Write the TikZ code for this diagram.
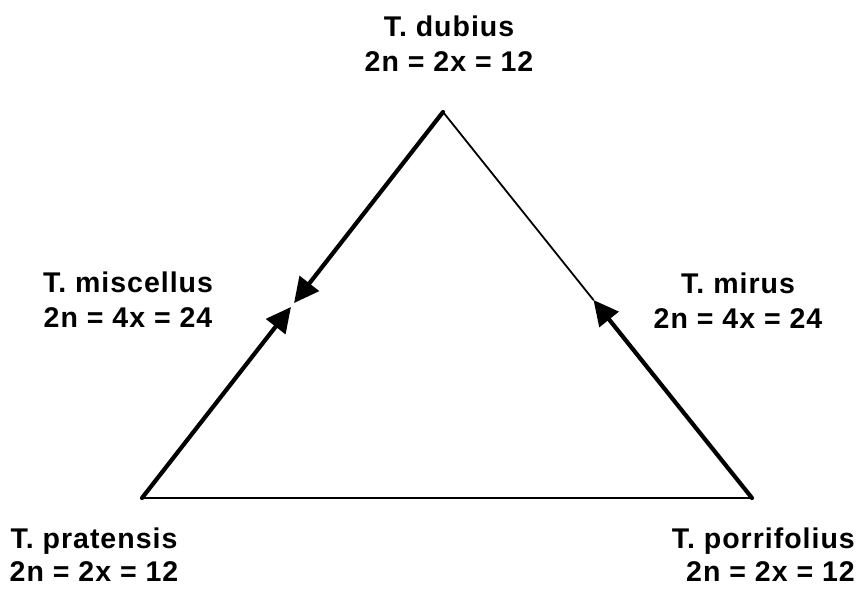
\documentclass[tikz,border=0pt]{standalone}
\usepackage{fontspec}
\setmainfont{Liberation Sans}
\newfontfamily\lblfont[LetterSpace=3.5]{Liberation Sans}
\usetikzlibrary{arrows.meta,calc}
\tikzset{
  lbl/.style={font=\lblfont\fontsize{28.5}{35}\selectfont\bfseries, inner sep=0pt, align=center, anchor=north},
  lowlbl/.style={lbl, font=\lblfont\fontsize{28.5}{33}\selectfont\bfseries},
  thinedge/.style={line width=1.8pt, line cap=round, line join=round},
  thickedge/.style={line width=4.2pt, line cap=round, -{Triangle[length=25pt,width=24pt]}},
}
\begin{document}
\begin{tikzpicture}[x=1pt,y=-1pt]
\useasboundingbox (0,0) rectangle (856,590);
\coordinate (A) at (443,112);
\coordinate (B) at (142,498);
\coordinate (C) at (752,498);
\coordinate (M1) at ($(A)!0.495!(B)$);
\coordinate (M2) at ($(A)!0.505!(B)$);
\coordinate (M3) at ($(A)!0.487!(C)$);
\draw[thinedge] (B) -- (C);
\draw[thinedge] (A) -- (M3);
\draw[thickedge] (A) -- (M1);
\draw[thickedge] (B) -- (M2);
\draw[thickedge] (C) -- (M3);
\node[lbl] (dub) at (449,16) {T. dubius\\2n = 2x = 12};
\node[lbl] (mis) at (128,272) {T. miscellus\\2n = 4x = 24};
\node[lbl] (mir) at (738,273) {T. mirus\\2n = 4x = 24};
\node[lowlbl] (pra) at (94,528) {T. pratensis\\2n = 2x = 12};
\node[lowlbl, align=right, anchor=north east] (por) at (855,528) {T. porrifolius\\2n = 2x = 12};
\end{tikzpicture}
\end{document}
